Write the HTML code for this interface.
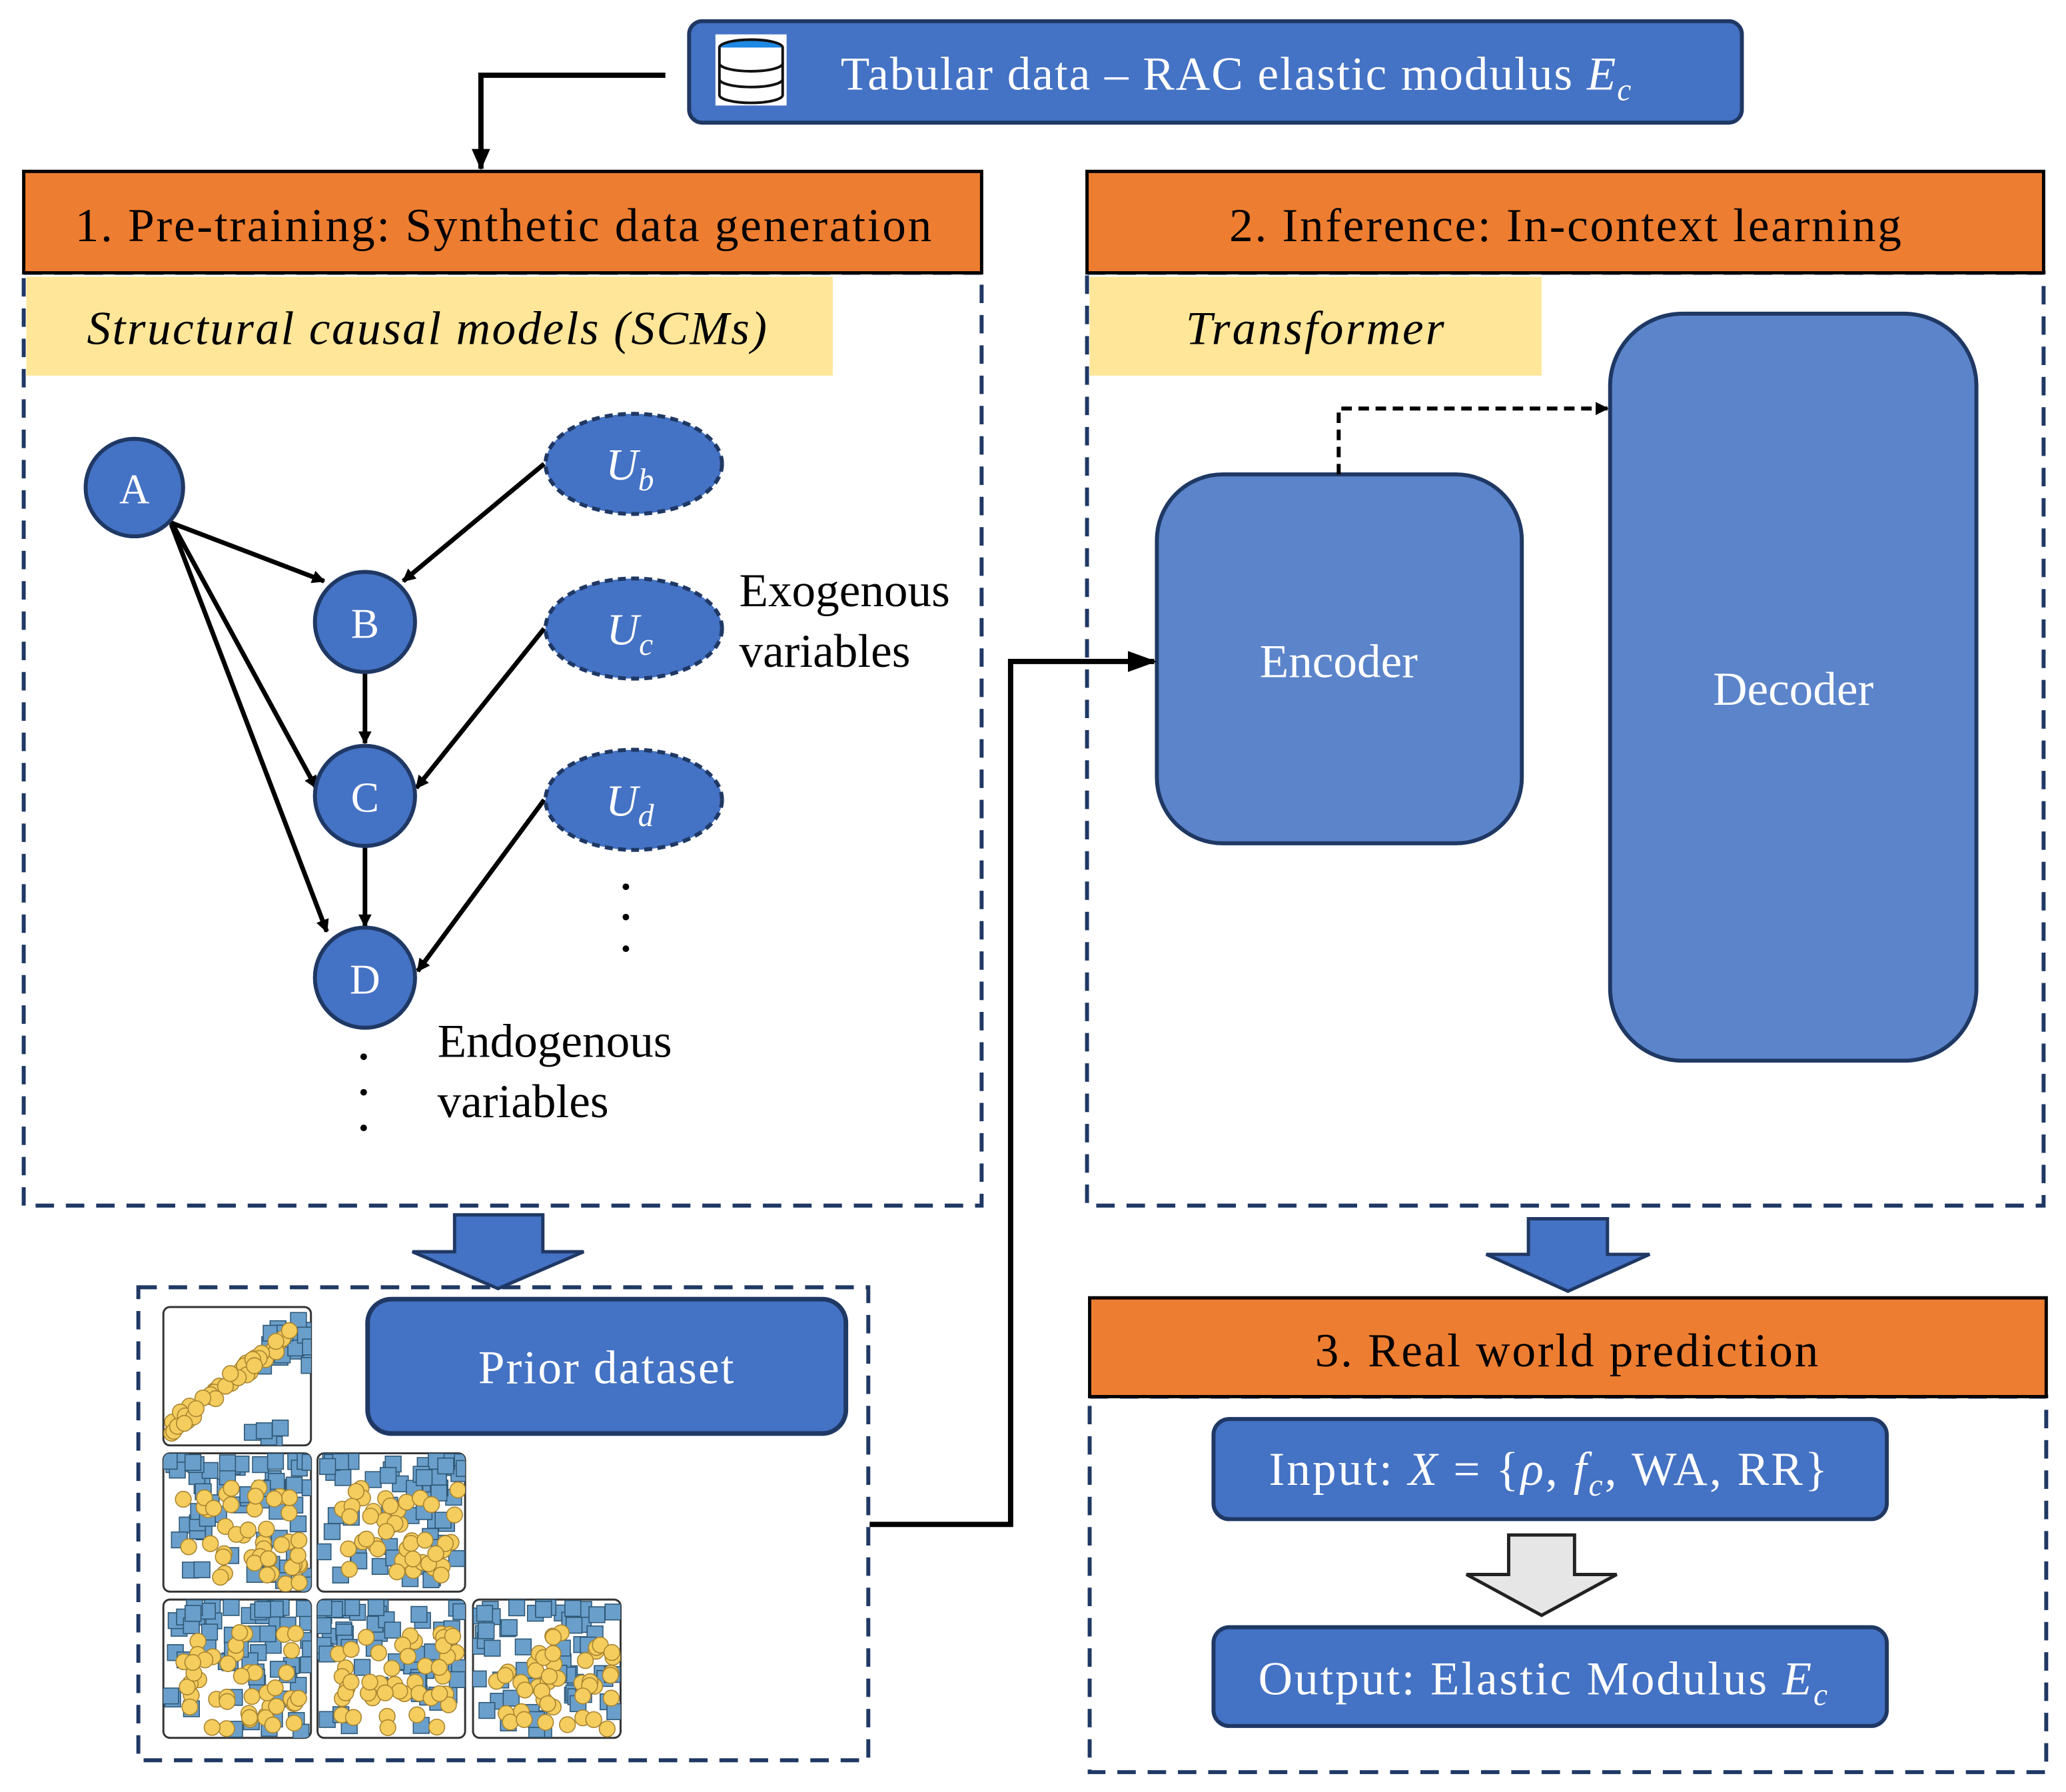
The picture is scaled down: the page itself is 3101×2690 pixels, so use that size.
<!DOCTYPE html>
<html><head><meta charset="utf-8"><style>
html,body{margin:0;padding:0;background:#fff;}
svg{display:block;}
text{font-family:"Liberation Serif",serif;}
</style></head><body>
<svg id="s" width="3101" height="2690" viewBox="0 0 1568 1360" xmlns="http://www.w3.org/2000/svg">
<defs>
<marker id="ah" markerWidth="10" markerHeight="10" refX="9" refY="5" orient="auto" markerUnits="userSpaceOnUse"><path d="M0,0 L10,5 L0,10 z" fill="#000"/></marker>
<marker id="ah2" markerWidth="22" markerHeight="16" refX="20" refY="8" orient="auto" markerUnits="userSpaceOnUse"><path d="M0,0 L22,8 L0,16 z" fill="#000"/></marker>
<marker id="ah3" markerWidth="16" markerHeight="16" refX="15" refY="8" orient="auto" markerUnits="userSpaceOnUse"><path d="M0,1 L16,8 L0,15 z" fill="#000"/></marker>
</defs>

<rect x="523" y="16" width="799" height="77" rx="10" fill="#4472C4" stroke="#1F3864" stroke-width="3"/>
<g>
<rect x="543" y="26" width="54" height="54" fill="#fff"/>
<ellipse cx="570" cy="36" rx="24" ry="6" fill="#1E88E5" stroke="#111" stroke-width="2"/>
<path d="M546,36 v36 a24,6 0 0 0 48,0 v-36" fill="#fff" stroke="#111" stroke-width="2"/>
<path d="M546,48 a24,6 0 0 0 48,0 M546,60 a24,6 0 0 0 48,0" fill="none" stroke="#111" stroke-width="2"/>
</g>
<text x="638" y="68" font-size="36" fill="#fff" textLength="600" lengthAdjust="spacing">Tabular data – RAC elastic modulus <tspan font-style="italic">E</tspan><tspan font-style="italic" font-size="24" dy="8">c</tspan></text>
<polyline points="505,57 365,57 365,128" fill="none" stroke="#000" stroke-width="4" marker-end="url(#ah3)"/>

<rect x="18" y="207" width="727" height="708" fill="none" stroke="#1F3864" stroke-width="3" stroke-dasharray="14,9"/>
<rect x="18" y="130" width="727" height="77" fill="#ED7D31" stroke="#000" stroke-width="2.5"/>
<text x="57" y="183" font-size="36" textLength="650" lengthAdjust="spacing">1. Pre-training: Synthetic data generation</text>
<rect x="20" y="210" width="612" height="75" fill="#FFE699"/>
<text x="66" y="261" font-size="36" font-style="italic" textLength="516" lengthAdjust="spacing">Structural causal models (SCMs)</text>

<g stroke="#000" stroke-width="3.5" fill="none">
<line x1="128" y1="396" x2="246" y2="441" marker-end="url(#ah)"/>
<line x1="130" y1="396" x2="240" y2="598" marker-end="url(#ah)"/>
<line x1="130" y1="398" x2="248" y2="707" marker-end="url(#ah)"/>
<line x1="413" y1="352" x2="306" y2="441" marker-end="url(#ah)"/>
<line x1="277" y1="510" x2="277" y2="564" marker-end="url(#ah)"/>
<line x1="413" y1="477" x2="316" y2="598" marker-end="url(#ah)"/>
<line x1="277" y1="642" x2="277" y2="703" marker-end="url(#ah)"/>
<line x1="413" y1="607" x2="317" y2="737" marker-end="url(#ah)"/>
</g>
<g fill="#4472C4" stroke="#1F3864" stroke-width="3">
<circle cx="102" cy="370" r="37"/><circle cx="277" cy="472" r="38"/><circle cx="277" cy="604" r="38"/><circle cx="277" cy="742" r="38"/>
</g>
<g fill="#4472C4" stroke="#1F3864" stroke-width="3" stroke-dasharray="6,4">
<ellipse cx="481" cy="352" rx="67" ry="38"/><ellipse cx="481" cy="477" rx="67" ry="38"/><ellipse cx="481" cy="607" rx="67" ry="38"/>
</g>
<g font-size="32" fill="#fff" text-anchor="middle">
<text x="102" y="382">A</text><text x="277" y="484">B</text><text x="277" y="616">C</text><text x="277" y="754">D</text>
<text x="478" y="364" font-style="italic" font-size="34">U<tspan font-size="24" dy="8">b</tspan></text>
<text x="478" y="489" font-style="italic" font-size="34">U<tspan font-size="24" dy="8">c</tspan></text>
<text x="478" y="619" font-style="italic" font-size="34">U<tspan font-size="24" dy="8">d</tspan></text>
</g>
<g font-size="36">
<text x="561" y="460">Exogenous</text><text x="561" y="506">variables</text>
<text x="332" y="802">Endogenous</text><text x="332" y="848">variables</text>
</g>
<g fill="#000"><circle cx="475" cy="673" r="2.5"/><circle cx="475" cy="696" r="2.5"/><circle cx="475" cy="720" r="2.5"/>
<circle cx="276" cy="802" r="2.5"/><circle cx="276" cy="829" r="2.5"/><circle cx="276" cy="856" r="2.5"/></g>

<rect x="825" y="207" width="726" height="708" fill="none" stroke="#1F3864" stroke-width="3" stroke-dasharray="14,9"/>
<rect x="825" y="130" width="726" height="77" fill="#ED7D31" stroke="#000" stroke-width="2.5"/>
<text x="933" y="183" font-size="36" textLength="510" lengthAdjust="spacing">2. Inference: In-context learning</text>
<rect x="827" y="210" width="343" height="75" fill="#FFE699"/>
<text x="900" y="261" font-size="36" font-style="italic" textLength="196" lengthAdjust="spacing">Transformer</text>
<rect x="878" y="360" width="277" height="280" rx="50" fill="#5B84CA" stroke="#1F3864" stroke-width="3"/>
<text x="1016" y="514" font-size="36" fill="#fff" text-anchor="middle">Encoder</text>
<rect x="1222" y="238" width="278" height="567" rx="55" fill="#5B84CA" stroke="#1F3864" stroke-width="3"/>
<text x="1361" y="535" font-size="36" fill="#fff" text-anchor="middle">Decoder</text>
<polyline points="1016,360 1016,310 1220,310" fill="none" stroke="#000" stroke-width="3" stroke-dasharray="8,5" marker-end="url(#ah)"/>

<polyline points="660,1157 767,1157 767,502 876,502" fill="none" stroke="#000" stroke-width="4" marker-end="url(#ah2)"/>

<path d="M345,922 H412 V950 H443 L378,978 L313,950 H345 Z" fill="#4472C4" stroke="#1F3864" stroke-width="2.5"/>
<path d="M1160,925 H1220 V952 H1252 L1190,980 L1128,952 H1160 Z" fill="#4472C4" stroke="#1F3864" stroke-width="2.5"/>

<rect x="105" y="977" width="554" height="359" fill="none" stroke="#1F3864" stroke-width="3" stroke-dasharray="14,9"/>
<rect x="279" y="986" width="363" height="102" rx="18" fill="#4472C4" stroke="#1F3864" stroke-width="3.5"/>
<text x="460" y="1050" font-size="36" fill="#fff" text-anchor="middle" textLength="194" lengthAdjust="spacing">Prior dataset</text>
<g id="sc"></g>

<rect x="827" y="1060" width="726" height="285" fill="none" stroke="#1F3864" stroke-width="3" stroke-dasharray="14,9"/>
<rect x="827" y="985" width="726" height="75" fill="#ED7D31" stroke="#000" stroke-width="2.5"/>
<text x="998" y="1037" font-size="36" textLength="382" lengthAdjust="spacing">3. Real world prediction</text>
<rect x="921" y="1077" width="511" height="76" rx="12" fill="#4472C4" stroke="#1F3864" stroke-width="3"/>
<text x="963" y="1127" font-size="36" fill="#fff" textLength="424" lengthAdjust="spacing">Input: <tspan font-style="italic">X</tspan> = {<tspan font-style="italic">ρ</tspan>, <tspan font-style="italic">f</tspan><tspan font-style="italic" font-size="24" dy="8">c</tspan><tspan dy="-8">, WA, RR}</tspan></text>
<path d="M1145,1165 H1195 V1195 H1227 L1170,1226 L1113,1195 H1145 Z" fill="#E7E6E6" stroke="#222" stroke-width="2.5"/>
<rect x="921" y="1235" width="511" height="75" rx="12" fill="#4472C4" stroke="#1F3864" stroke-width="3"/>
<text x="955" y="1286" font-size="36" fill="#fff" textLength="432" lengthAdjust="spacing">Output: Elastic Modulus <tspan font-style="italic">E</tspan><tspan font-style="italic" font-size="24" dy="8">c</tspan></text>
</svg>
<script>
(function(){
var g=document.getElementById('sc'),ns='http://www.w3.org/2000/svg',seed=7;
function r(){seed=(seed*16807)%2147483647;return seed/2147483647;}
var panels=[[124,992],[124,1103],[241,1103],[124,1214],[241,1214],[359,1214]];
panels.forEach(function(p,i){
 var x=p[0],y=p[1],w=112,h=105;
 var rc=document.createElementNS(ns,'rect');
 rc.setAttribute('x',x);rc.setAttribute('y',y);rc.setAttribute('width',w);rc.setAttribute('height',h);rc.setAttribute('rx',5);
 rc.setAttribute('fill','#fff');rc.setAttribute('stroke','#333');rc.setAttribute('stroke-width','1.5');g.appendChild(rc);
 var cl=document.createElementNS(ns,'clipPath');cl.setAttribute('id','c'+i);
 var cr=rc.cloneNode();cl.appendChild(cr);g.appendChild(cl);
 var gg=document.createElementNS(ns,'g');gg.setAttribute('clip-path','url(#c'+i+')');g.appendChild(gg);
 var ns2=i==0?25:60;
 for(var k=0;k<ns2;k++){
  var sx,sy;
  if(i==0){if(k<20){var t=r();sx=x+70+t*38;sy=y+2+r()*40;}else{sx=x+60+r()*25;sy=y+85+r()*15;}}
  else {sx=x-2+r()*(w-4);sy=y+Math.pow(r(),1.8)*(h-10);}
  var s=document.createElementNS(ns,'rect');
  s.setAttribute('x',sx);s.setAttribute('y',sy);s.setAttribute('width',12);s.setAttribute('height',12);
  s.setAttribute('fill','#6A9FCB');s.setAttribute('stroke','#2E5775');s.setAttribute('stroke-width','0.8');gg.appendChild(s);
 }
 for(var k=0;k<45;k++){
  var cx,cy;
  if(i==0){var t=r();cx=x+6+t*90;cy=y+85-t*70+r()*12;} else {cx=x+15+r()*(w-20);cy=y+25+r()*(h-30);}
  var c=document.createElementNS(ns,'circle');
  c.setAttribute('cx',cx);c.setAttribute('cy',cy);c.setAttribute('r',6);
  c.setAttribute('fill','#F5CD5E');c.setAttribute('stroke','#A88430');c.setAttribute('stroke-width','0.8');gg.appendChild(c);
 }
});
})();
</script>
</body></html>
